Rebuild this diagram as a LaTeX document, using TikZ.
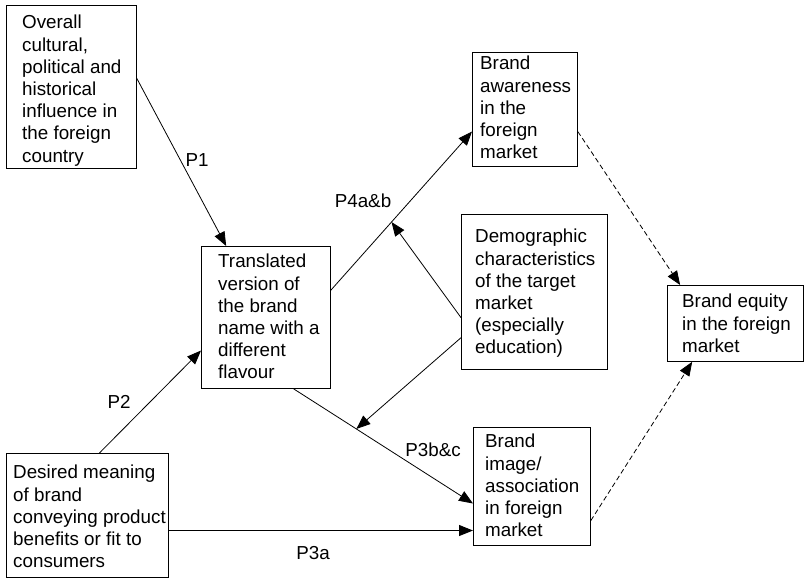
\documentclass[tikz,border=0pt]{standalone}
\usepackage{fontspec}
\setmainfont{Liberation Sans}
\usetikzlibrary{arrows.meta,calc}

\tikzset{
  box/.style={draw, line width=0.8pt, rectangle, inner sep=0pt, anchor=north west},
  txt/.style={inner sep=0pt, anchor=north west, align=left,
              font=\fontsize{18.8}{22.2}\selectfont},
  lbl/.style={inner sep=0pt, font=\fontsize{18.8}{22.2}\selectfont},
  link/.style={line width=0.8pt, -{Triangle[length=14pt,width=11pt]}},
  dlink/.style={link, dash pattern=on 5pt off 3pt}
}

\begin{document}
\begin{tikzpicture}[x=1pt,y=-1pt]
\useasboundingbox (0,0) rectangle (804,578);

% boxes
\node[box, minimum width=130pt, minimum height=163pt] (cult)   at (6,5) {};
\node[box, minimum width=129pt, minimum height=142pt] (trans)  at (201,246) {};
\node[box, minimum width=105pt, minimum height=114pt] (aware)  at (472,52) {};
\node[box, minimum width=146pt, minimum height=155pt] (demo)   at (461,214) {};
\node[box, minimum width=136pt, minimum height=76pt]  (equity) at (667,285) {};
\node[box, minimum width=117pt, minimum height=118pt] (image)  at (473,427) {};
\node[box, minimum width=162pt, minimum height=124pt] (desire) at (6,453) {};

% box texts
\node[txt] (cultT)   at (22,15)  {Overall\\cultural,\\political and\\historical\\influence in\\the foreign\\country};
\node[txt] (transT)  at (218,254) {Translated\\version of\\the brand\\name with a\\different\\flavour};
\node[txt] (awareT)  at (480,56)  {Brand\\awareness\\in the\\foreign\\market};
\node[txt] (demoT)   at (475,229) {Demographic\\characteristics\\of the target\\market\\(especially\\education)};
\node[txt] (equityT) at (682,294) {Brand equity\\in the foreign\\market};
\node[txt] (imageT)  at (485,434) {Brand\\image/\\association\\in foreign\\market};
\node[txt] (desireT) at (13,465)  {Desired meaning\\of brand\\conveying product\\benefits or fit to\\consumers};

% connector end points on the box borders
\coordinate (p1s) at ($(cult.north east)!0.448!(cult.south east)$);
\coordinate (p1e) at ($(trans.north west)!0.194!(trans.north east)$);
\coordinate (p2s) at ($(desire.north west)!0.574!(desire.north east)$);
\coordinate (p2e) at ($(trans.north west)!0.732!(trans.south west)$);
\coordinate (p4s) at ($(trans.north east)!0.31!(trans.south east)$);
\coordinate (p4e) at ($(aware.north west)!0.693!(aware.south west)$);
\coordinate (p3bs) at ($(trans.south west)!0.713!(trans.south east)$);
\coordinate (p3be) at ($(image.north west)!0.644!(image.south west)$);
\coordinate (p3as) at ($(desire.north east)!0.621!(desire.south east)$);
\coordinate (d1s) at ($(aware.north east)!0.693!(aware.south east)$);
\coordinate (d1e) at ($(equity.north west)!0.096!(equity.north east)$);
\coordinate (d2s) at ($(image.north east)!0.788!(image.south east)$);
\coordinate (d2e) at ($(equity.south west)!0.184!(equity.south east)$);
\coordinate (m1s) at ($(demo.north west)!0.665!(demo.south west)$);
\coordinate (m1e) at ($(p4s)!0.43!(p4e)$);
\coordinate (m2s) at ($(demo.north west)!0.794!(demo.south west)$);
\coordinate (m2e) at ($(p3bs)!0.35!(p3be)$);

% paths
\draw[link] (p1s) -- (p1e);
\draw[link] (p2s) -- (p2e);
\draw[link] (p4s) -- (p4e);
\draw[link] (p3bs) -- (p3be);
\draw[link] (p3as) -- (p3as -| image.west);
\draw[link] (m1s) -- (m1e);
\draw[link] (m2s) -- (m2e);
\draw[dlink] (d1s) -- (d1e);
\draw[dlink] (d2s) -- (d2e);

% path labels
\node[lbl] (lP1)  at (197,160) {P1};
\node[lbl] (lP2)  at (119,402) {P2};
\node[lbl] (lP4)  at (363,201) {P4a\&b};
\node[lbl] (lP3b) at (433,450) {P3b\&c};
\node[lbl] (lP3a) at (313,553) {P3a};
\end{tikzpicture}
\end{document}
